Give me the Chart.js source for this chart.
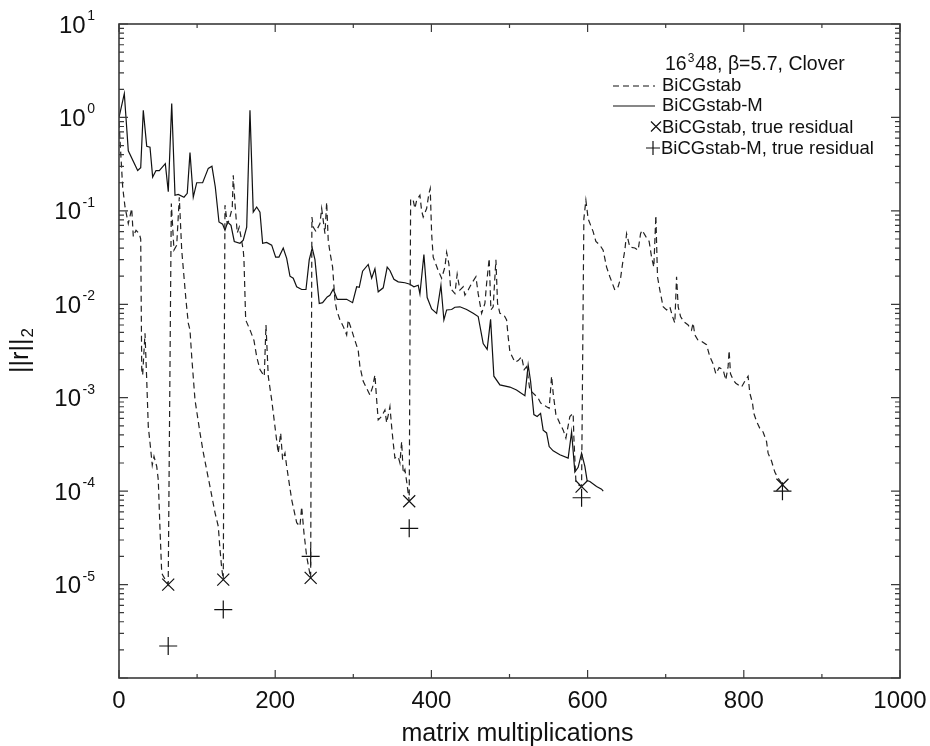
<!DOCTYPE HTML>
<html lang="en">
<head>
<meta charset="UTF-8">
<title>BiCGstab residual history</title>
<script src="https://cdn.jsdelivr.net/npm/chart.js@4.4.0/dist/chart.umd.min.js"></script>
<style>
body { margin: 0; background: #fff; }
#wrap { width: 930px; height: 746px; position: relative; }
</style>
</head>
<body>
<div id="wrap"><canvas id="mychart"></canvas></div>

<script>
// BiCGstab (dashed), restarted several times
const bicgX = [0, 2, 4.7, 7.7, 11.9, 16.3, 18.3, 21.8, 26, 27.8, 29.1, 30.3, 33.3, 35.5, 37.5, 39.7, 42.6, 44.8, 48.3, 50.3,
  52.5, 54.7, 56.7, 63, 67, 70.4, 73.9, 77.2, 80.3, 85.8, 88.7, 90.9, 93.1, 97.3, 103.7, 107.9, 113, 116.5, 122.9, 127.1,
  129.3, 131.5, 133.5, 135.7, 138.6, 140.8, 145, 146.3, 148.5, 151.4, 154, 159.1, 160, 162.2, 168.6, 172.8, 176.3, 180.5, 186, 188.2,
  191.1, 195.5, 199.7, 203.9, 207, 209.5, 212.5, 214.7, 221.1, 227.5, 231.7, 233.9, 236.8, 240.3, 245.4, 247, 248.7, 252.2, 257.3, 259.5,
  261.5, 263.7, 265.9, 267.9, 270.1, 273.5, 276.5, 278.7, 282.9, 287.1, 291.5, 293.5, 297.9, 302.1, 306.3, 308.5, 312.7, 317.1, 321.3, 324.7,
  327.7, 329.9, 331.9, 336.3, 340.5, 342.7, 346.9, 349.1, 351.1, 353.3, 357.5, 359.7, 361.9, 363.9, 366.1, 368.3, 371.6, 373.4, 376.7, 378.9,
  381.1, 385.3, 387.5, 389.5, 393.9, 396.8, 398.5, 400.3, 402.3, 404.5, 408.7, 413.1, 417.3, 419.5, 422.4, 424.6, 430.1, 433, 436.5, 440.7,
  442.9, 447.1, 451.5, 457, 459.9, 464.3, 468.5, 470.7, 474, 476.2, 479.1, 482.6, 484.7, 487.7, 492.8, 496.3, 498.3, 500.5, 506.9, 511.1,
  515.5, 518.8, 521.9, 526.1, 536.7, 539.8, 547.5, 550.8, 553.9, 555.9, 559.4, 564.5, 568.8, 572.2, 577.3, 581.5, 582.4, 585, 587.9, 592.3,
  595.2, 597.8, 600.7, 607.1, 610.6, 615.7, 619.9, 624.3, 628.5, 634.9, 639.1, 642.2, 644.7, 647.7, 649.9, 654.1, 660.5, 664.7, 667.8, 669.8,
  674.6, 678.8, 681.9, 684.8, 687.4, 689.5, 692.5, 696.7, 701.1, 705.3, 708.7, 711.7, 713.9, 716, 719, 723.2, 728.7, 733.1, 735.1, 737.3,
  741.5, 745.9, 752.3, 756.5, 760.7, 764.2, 768.4, 773.5, 776.9, 779.9, 781.2, 783, 786.4, 789.8, 797.1, 801.3, 805.5, 807.7, 811.1, 812.8,
  816.3, 820.5, 824.7, 829.1, 831.1, 835.5, 839.7, 843.9, 848.3, 849.5];
const bicgY = [0.9, 0.45, 0.18, 0.11, 0.073, 0.106, 0.053, 0.062, 0.057, 0.05, 0.002, 0.00175, 0.0049, 0.00155, 0.00049, 0.00033, 0.00019, 0.000235, 0.000184, 0.000132,
  3.9e-5, 1.33e-5, 1.23e-5, 1.0e-5, 0.12, 0.038, 0.043, 0.14, 0.038, 0.011, 0.0063, 0.0053, 0.00275, 0.00095, 0.00042, 0.00026, 0.000157, 0.000112, 5.9e-5, 4.2e-5,
  2.4e-5, 1.5e-5, 1.13e-5, 0.115, 0.073, 0.079, 0.107, 0.24, 0.12, 0.058, 0.067, 0.038, 0.03, 0.0068, 0.0051, 0.0041, 0.00275, 0.002, 0.0017, 0.006,
  0.0017, 0.00095, 0.00049, 0.000255, 0.00042, 0.000217, 0.000255, 0.000184, 8.1e-5, 4.6e-5, 4.2e-5, 6.8e-5, 3.6e-5, 2.0e-5, 1.18e-5, 0.086, 0.067, 0.06, 0.073, 0.106,
  0.079, 0.057, 0.124, 0.0485, 0.036, 0.025, 0.011, 0.0087, 0.0068, 0.0058, 0.0047, 0.0068, 0.0053, 0.0041, 0.0032, 0.00215, 0.0015, 0.00126, 0.00107, 0.0013,
  0.00175, 0.00095, 0.00058, 0.00063, 0.00074, 0.00054, 0.0008, 0.00049, 0.00033, 0.000226, 0.000235, 0.0002, 0.00034, 0.000156, 0.00017, 0.000127, 7.8e-5, 0.135, 0.13, 0.106,
  0.13, 0.147, 0.1, 0.086, 0.106, 0.153, 0.173, 0.057, 0.032, 0.0285, 0.023, 0.019, 0.025, 0.036, 0.027, 0.0148, 0.013, 0.021, 0.0142, 0.0154,
  0.0125, 0.0142, 0.0167, 0.0197, 0.013, 0.008, 0.0102, 0.0167, 0.031, 0.0087, 0.0094, 0.03, 0.0102, 0.008, 0.0077, 0.0068, 0.0045, 0.0031, 0.0024, 0.0025,
  0.00275, 0.002, 0.00215, 0.00121, 0.00099, 0.00088, 0.0008, 0.00077, 0.0017, 0.00112, 0.00066, 0.00053, 0.00045, 0.00037, 0.00063, 0.00068, 0.00038, 0.000127, 0.000117, 1.12e-4,
  0.082, 0.13, 0.082, 0.06, 0.047, 0.043, 0.038, 0.025, 0.0197, 0.0142, 0.0154, 0.019, 0.027, 0.038, 0.057, 0.041, 0.04, 0.038, 0.057, 0.062,
  0.053, 0.047, 0.032, 0.025, 0.089, 0.0197, 0.0142, 0.0094, 0.0087, 0.0094, 0.0074, 0.0063, 0.0197, 0.0094, 0.0074, 0.0065, 0.006, 0.0053, 0.0063, 0.0047,
  0.0041, 0.004, 0.0037, 0.00275, 0.0023, 0.0018, 0.0021, 0.002, 0.00155, 0.00215, 0.0032, 0.0018, 0.00155, 0.00143, 0.0013, 0.0015, 0.0017, 0.00112, 0.00088, 0.00068,
  0.00056, 0.00047, 0.00043, 0.00034, 0.000255, 0.00021, 0.00016, 0.000138, 0.000122, 1.17e-4];

// BiCGstab-M (solid)
const bicgmX = [0, 6.8, 11.9, 23.9, 27.8, 31.1, 35.5, 39.7, 43.1, 47.4, 51.6, 59.3, 63.1, 67.5, 71.7, 75.9, 83.2, 87.4, 90.9, 95.1,
  99.5, 107.1, 114.3, 119, 123.3, 128, 132.7, 135.7, 139.1, 143.4, 147.6, 154.9, 159.1, 163.5, 167.7, 171.9, 176.3, 180.5, 183.9, 189,
  195.5, 200.6, 204.8, 210.3, 214.7, 218.9, 223.1, 227.5, 233.9, 239.4, 243.6, 247.4, 250.9, 256.4, 260.7, 266.6, 270, 274.3, 279.4, 282.9,
  291.5, 299.1, 304.3, 307.6, 311.9, 319.1, 323.5, 327.7, 331.9, 338.3, 343.4, 346.9, 352, 357.5, 366.1, 372.5, 377.6, 383.1, 385.3, 390.4,
  394.6, 400.3, 406.7, 412.2, 416, 419.5, 425.9, 430.1, 436.5, 445.1, 453.5, 459.9, 466.3, 471.4, 475.8, 480, 487.7, 500.5, 509, 519.7,
  523.9, 527, 531.2, 535.4, 539.8, 543.1, 547.5, 550.8, 555.9, 564.5, 575.1, 579.5, 583.7, 587.9, 592.3, 596.5, 599.4, 602.9, 611.5, 617.9, 620];
const bicgmY = [1.0, 1.8, 0.44, 0.27, 0.29, 1.19, 0.49, 0.48, 0.23, 0.27, 0.27, 0.32, 0.16, 1.41, 0.147, 0.15, 0.14, 0.154, 0.42, 0.14,
  0.2, 0.2, 0.285, 0.3, 0.18, 0.076, 0.072, 0.062, 0.076, 0.07, 0.047, 0.045, 0.0485, 0.067, 1.19, 0.097, 0.11, 0.097, 0.045, 0.046,
  0.043, 0.032, 0.032, 0.04, 0.031, 0.02, 0.019, 0.0154, 0.0144, 0.0144, 0.03, 0.04, 0.03, 0.0102, 0.0104, 0.012, 0.0125, 0.0145, 0.0113, 0.0113,
  0.0113, 0.0104, 0.0154, 0.0152, 0.0226, 0.0267, 0.019, 0.024, 0.0136, 0.015, 0.025, 0.023, 0.0185, 0.0174, 0.017, 0.0164, 0.0154, 0.016, 0.0129, 0.034,
  0.0118, 0.0089, 0.008, 0.016, 0.0068, 0.0087, 0.0088, 0.0093, 0.0094, 0.0088, 0.008, 0.0074, 0.0038, 0.0033, 0.0069, 0.0017, 0.00137, 0.0013, 0.00121, 0.00105,
  0.00224, 0.0015, 0.00066, 0.00063, 0.00068, 0.00045, 0.00042, 0.0003, 0.00027, 0.000245, 0.000226, 0.00043, 0.00016, 0.00018, 0.000255, 0.000184, 0.00013, 0.000127, 0.000112, 0.000105, 0.0001];

// true residuals at the restart points
const trueX = [63, 133.5, 245.4, 371.6, 592.3, 849.5];
const trueBicg = [1.0e-5, 1.13e-5, 1.18e-5, 7.8e-5, 1.12e-4, 1.17e-4];
const trueBicgm = [2.2e-6, 5.4e-6, 2.0e-5, 4.0e-5, 8.5e-5, 1.0e-4];

// axis ticks
const xTickVals = [0, 200, 400, 600, 800, 1000];
const yTickExps = [1, 0, -1, -2, -3, -4, -5];

const FONT = '"Liberation Sans", Arial, Helvetica, sans-serif';
const INK = '#111';

function toPoints(xs, ys) {
    return xs.map((x, i) => ({x: x, y: ys[i]}));
}

// frame, inward ticks, labels and legend drawn on top of the plot
const framePlugin = {
    id: 'framePlugin',
    afterDraw(chart) {
        const ctx = chart.ctx;
        const a = chart.chartArea;
        const xs = chart.scales.x;
        const ys = chart.scales.y;
        ctx.save();

        ctx.strokeStyle = '#3a3a3a';
        ctx.lineWidth = 1.6;
        ctx.strokeRect(a.left, a.top, a.right - a.left, a.bottom - a.top);

        ctx.lineWidth = 1.2;
        ctx.beginPath();
        for (let v = 0; v <= 1000; v += 100) {
            const px = xs.getPixelForValue(v);
            const len = (v % 200 === 0) ? 8 : 4;
            ctx.moveTo(px, a.bottom); ctx.lineTo(px, a.bottom - len);
            ctx.moveTo(px, a.top); ctx.lineTo(px, a.top + len);
        }
        for (let k = -6; k <= 1; k++) {
            for (let m = 1; m <= 9; m++) {
                if (k === 1 && m > 1) break;
                const py = ys.getPixelForValue(m * Math.pow(10, k));
                const len = (m === 1) ? 9 : 5;
                ctx.moveTo(a.left, py); ctx.lineTo(a.left + len, py);
                ctx.moveTo(a.right, py); ctx.lineTo(a.right - len, py);
            }
        }
        ctx.stroke();

        ctx.fillStyle = INK;
        ctx.textBaseline = 'alphabetic';

        // x tick labels
        ctx.font = '24px ' + FONT;
        ctx.textAlign = 'center';
        xTickVals.forEach(v => {
            ctx.fillText(String(v), xs.getPixelForValue(v), 708);
        });

        // y tick labels 10^n
        ctx.textAlign = 'right';
        yTickExps.forEach(e => {
            const ty = ys.getPixelForValue(Math.pow(10, e));
            const es = String(e);
            ctx.font = '14px ' + FONT;
            const w = ctx.measureText(es).width;
            ctx.fillText(es, 95, ty - 4);
            ctx.font = '24px ' + FONT;
            ctx.fillText('10', 95 - w - 1.5, ty + 8.5);
        });

        // axis titles
        ctx.textAlign = 'center';
        ctx.font = '25px ' + FONT;
        ctx.fillText('matrix multiplications', (a.left + a.right) / 2 + 8, 741);

        ctx.save();
        ctx.translate(28, (a.top + a.bottom) / 2);
        ctx.rotate(-Math.PI / 2);
        ctx.textAlign = 'left';
        ctx.font = '25px ' + FONT;
        const wMain = ctx.measureText('||r||').width;
        ctx.font = '17px ' + FONT;
        const wSub = ctx.measureText('2').width;
        const x0 = -(wMain + wSub) / 2;
        ctx.font = '25px ' + FONT;
        ctx.fillText('||r||', x0, 0);
        ctx.font = '17px ' + FONT;
        ctx.fillText('2', x0 + wMain + 1, 5);
        ctx.restore();

        // legend
        ctx.textAlign = 'left';
        ctx.font = '19.5px ' + FONT;
        let tx = 665;
        ctx.fillText('16', tx, 70);
        tx += ctx.measureText('16').width;
        ctx.font = '12px ' + FONT;
        ctx.fillText('3', tx + 1, 62);
        tx += ctx.measureText('3').width + 2;
        ctx.font = '19.5px ' + FONT;
        ctx.fillText('48, \u03b2=5.7, Clover', tx, 70);

        ctx.font = '18.5px ' + FONT;
        ctx.fillText('BiCGstab', 662, 91);
        ctx.fillText('BiCGstab-M', 662, 111);
        ctx.fillText('BiCGstab, true residual', 662, 133);
        ctx.fillText('BiCGstab-M, true residual', 661, 154);

        ctx.strokeStyle = INK;
        ctx.lineWidth = 1.2;
        ctx.setLineDash([6, 4]);
        ctx.beginPath(); ctx.moveTo(613, 86); ctx.lineTo(655, 86); ctx.stroke();
        ctx.setLineDash([]);
        ctx.beginPath(); ctx.moveTo(613, 106); ctx.lineTo(655, 106); ctx.stroke();

        ctx.beginPath();
        ctx.moveTo(651, 121.5); ctx.lineTo(661, 131.5);
        ctx.moveTo(661, 121.5); ctx.lineTo(651, 131.5);
        ctx.moveTo(646, 148); ctx.lineTo(660, 148);
        ctx.moveTo(653, 141); ctx.lineTo(653, 155);
        ctx.stroke();

        ctx.restore();
    }
};

window.addEventListener('load', function() {
    const ctx = document.getElementById('mychart');
    new Chart(ctx, {
        type: 'line',
        data: {
            datasets: [{
                label: 'BiCGstab',
                data: toPoints(bicgX, bicgY),
                borderColor: '#222',
                borderWidth: 1.2,
                borderDash: [6, 4],
                pointRadius: 0,
                tension: 0,
                fill: false
            }, {
                label: 'BiCGstab-M',
                data: toPoints(bicgmX, bicgmY),
                borderColor: INK,
                borderWidth: 1.2,
                pointRadius: 0,
                tension: 0,
                fill: false
            }, {
                label: 'BiCGstab, true residual',
                data: toPoints(trueX, trueBicg),
                showLine: false,
                pointStyle: 'crossRot',
                pointRadius: 8.5,
                pointBorderColor: INK,
                pointBorderWidth: 1.2,
                pointBackgroundColor: 'rgba(0,0,0,0)'
            }, {
                label: 'BiCGstab-M, true residual',
                data: toPoints(trueX, trueBicgm),
                showLine: false,
                pointStyle: 'cross',
                pointRadius: 9,
                pointBorderColor: INK,
                pointBorderWidth: 1.2,
                pointBackgroundColor: 'rgba(0,0,0,0)'
            }]
        },
        options: {
            responsive: true,
            maintainAspectRatio: false,
            animation: false,
            events: [],
            layout: {
                autoPadding: false,
                padding: {left: 119, right: 30, top: 24, bottom: 68}
            },
            plugins: {
                legend: {display: false},
                tooltip: {enabled: false}
            },
            scales: {
                x: {type: 'linear', min: 0, max: 1000, display: false},
                y: {type: 'logarithmic', min: 1e-6, max: 10, display: false}
            }
        },
        plugins: [framePlugin]
    });
});
</script>
</body>
</html>
